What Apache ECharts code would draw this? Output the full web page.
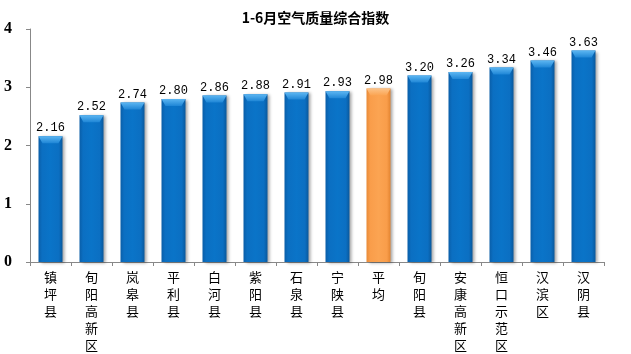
<!DOCTYPE html>
<html><head><meta charset="utf-8">
<script src="https://cdn.jsdelivr.net/npm/echarts@6/dist/echarts.min.js"></script>
<style>html,body{margin:0;padding:0;background:#fff}#c{width:631px;height:354px}</style>
</head><body><div id="c"></div>
<script>
const categories = ['镇坪县','旬阳高新区','岚皋县','平利县','白河县','紫阳县','石泉县','宁陕县','平均','旬阳县','安康高新区','恒口示范区','汉滨区','汉阴县'];
const values = [2.16,2.52,2.74,2.80,2.86,2.88,2.91,2.93,2.98,3.20,3.26,3.34,3.46,3.63];
const highlightIndex = 8;
const yTicks = [0,1,2,3,4];

const blue = {type:'linear',x:0,y:0,x2:1,y2:0,colorStops:[{offset:0,color:'#0a5ea8'},{offset:0.15,color:'#0b6fc2'},{offset:0.5,color:'#0a74c8'},{offset:0.85,color:'#0b6fc2'},{offset:1,color:'#09589c'}]};
const orange = {type:'linear',x:0,y:0,x2:1,y2:0,colorStops:[{offset:0,color:'#e98a36'},{offset:0.15,color:'#f99d4a'},{offset:0.5,color:'#fba452'},{offset:0.85,color:'#f99d4a'},{offset:1,color:'#e38430'}]};

const chart = echarts.init(document.getElementById('c'));
chart.setOption({
  animation:false,
  title:{text:'1-6月空气质量综合指数',left:'center',top:6,textStyle:{fontFamily:'"Noto Sans CJK SC"',fontWeight:'bold',fontSize:14,color:'#000'}},
  grid:{left:30,right:27,top:29,bottom:88},
  xAxis:{type:'category',data:categories,
    axisLine:{lineStyle:{color:'#888'}},
    axisTick:{show:true,alignWithLabel:false,length:4,lineStyle:{color:'#888'}},
    axisLabel:{interval:0,color:'#000',fontFamily:'"Noto Sans CJK SC"',fontSize:13,lineHeight:17,margin:7,
      formatter:v=>v.split('').join('\n')}},
  yAxis:{type:'value',min:0,max:4,interval:1,
    axisLine:{show:true,lineStyle:{color:'#888'}},
    axisTick:{show:true,length:4,lineStyle:{color:'#888'}},
    splitLine:{show:false},
    axisLabel:{color:'#000',fontFamily:'"Liberation Serif"',fontWeight:'bold',fontSize:16,margin:18,
      formatter:v=>yTicks.includes(v)?String(v):''}},
  series:[{type:'bar',barWidth:24,
    data:values.map((v,i)=>({value:v,itemStyle:{color:i===highlightIndex?orange:blue}})),
    itemStyle:{shadowColor:'rgba(0,0,0,0.35)',shadowBlur:3,shadowOffsetX:2,shadowOffsetY:1},
    label:{show:true,position:'top',distance:2,color:'#000',fontFamily:'"Liberation Mono"',fontSize:12,formatter:p=>p.value.toFixed(2)}
  },{
    type:'custom',
    renderItem:(params,api)=>{
      const p = api.coord([api.value(0),api.value(1)]);
      const w = 24, h = 7;
      const x = p[0]-w/2, y = p[1];
      const isHi = params.dataIndex===highlightIndex;
      return {type:'polygon',shape:{points:[[x,y],[x+w,y],[x+w-4,y+h],[x+4,y+h]]},
        style:{fill:{type:'linear',x:0,y:0,x2:0,y2:1,colorStops:isHi?[{offset:0,color:'#fcc48a'},{offset:1,color:'#fba452'}]:[{offset:0,color:'#5cb6f2'},{offset:1,color:'#1f86d6'}]}}};
    },
    data:values.map((v,i)=>[i,v]),
    z:5
  }]
});
</script></body></html>
